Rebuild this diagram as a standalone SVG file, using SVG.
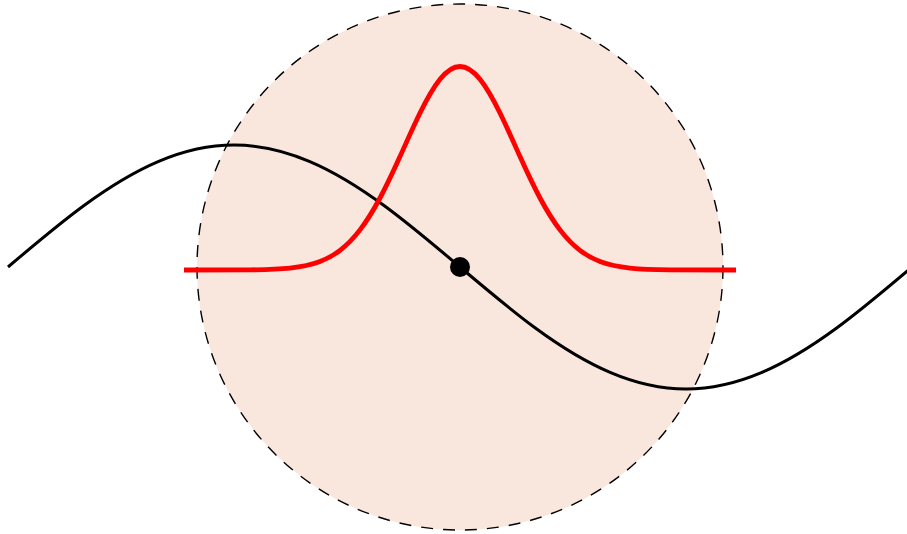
<svg xmlns="http://www.w3.org/2000/svg" width="907" height="534" viewBox="0 0 907 534">
  <style>
    .disk { fill: #F9E6DC; stroke: #000000; stroke-width: 1.4; stroke-dasharray: 12 10; }
    .wave { fill: none; stroke: #000000; stroke-width: 3; }
    .bump { fill: none; stroke: #FF0000; stroke-width: 4.8; }
  </style>
  <rect width="907" height="534" fill="#FFFFFF"/>
  <g id="disk">
    <circle class="disk" cx="460" cy="267" r="263"/>
  </g>
  <g id="sine">
    <path class="wave" d="M8,267 C33.11,245.71 58.22,224.44 83.33,206 C108.44,187.56 133.56,172 158.67,161.35 C183.78,150.7 208.89,145 234,145 C259.11,145 284.22,150.7 309.33,161.35 C334.44,172 359.56,187.56 384.67,206 C409.78,224.44 434.89,245.71 460,267 C485.11,288.29 510.22,309.56 535.33,328 C560.44,346.44 585.56,362 610.67,372.65 C635.78,383.3 660.89,389 686,389 C711.11,389 736.22,383.3 761.33,372.65 C786.44,362 811.56,346.44 836.67,328 C861.78,309.56 886.89,288.29 912,267"/>
  </g>
  <g id="gaussian">
    <path class="bump" d="M184,270 L250,269.84 C263.33,269.70 276.67,269.51 290,268.13 C300,267.10 310,265.40 320,261.56 C326.67,259.0 333.33,255.45 340,250.35 C346.67,245.25 353.33,238.56 360,229.87 C366.67,221.18 373.33,210.47 380,198 C386.67,185.53 393.33,171.29 400,156.56 C406.67,141.83 413.33,126.64 420,113.05 C426.67,99.46 433.33,87.56 440,79.30 C446.67,71.04 453.33,66.5 460,66.5 C466.67,66.5 473.33,71.04 480,79.30 C486.67,87.56 493.33,99.46 500,113.05 C506.67,126.64 513.33,141.83 520,156.56 C526.67,171.29 533.33,185.53 540,198 C546.67,210.47 553.33,221.18 560,229.87 C566.67,238.56 573.33,245.25 580,250.35 C586.67,255.45 593.33,259.0 600,261.56 C610,265.40 620,267.10 630,268.13 C643.33,269.51 656.67,269.70 670,269.84 L736,270"/>
  </g>
  <g id="point">
    <circle cx="460" cy="267" r="10" fill="#000000"/>
  </g>
</svg>
